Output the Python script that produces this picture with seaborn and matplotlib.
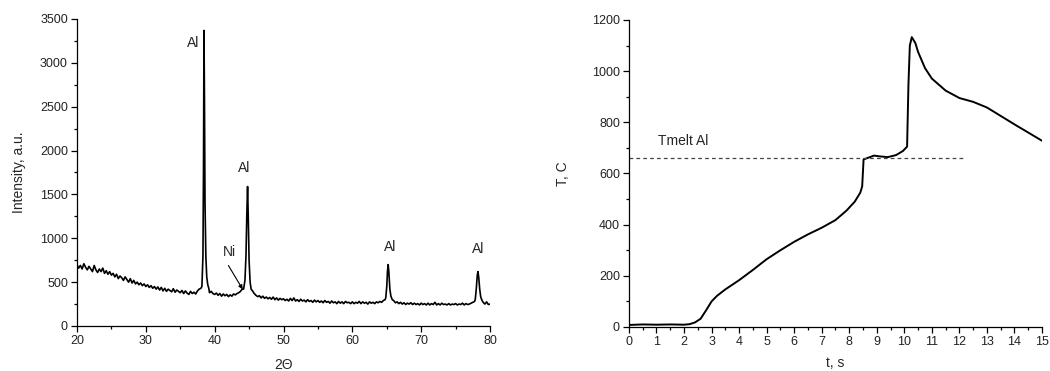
import numpy as np
import pandas as pd
import matplotlib
matplotlib.use("Agg")
import matplotlib.pyplot as plt
import seaborn as sns
from matplotlib.ticker import MultipleLocator

# XRD background, every 0.25 deg from 20 to 80 (a.u.)
bg_start, bg_step = 20.0, 0.25
bg_intensity = [
    700, 660, 690, 650, 710, 670, 640, 680, 650, 620, 690, 640, 610, 650, 620, 660, 600, 630, 590, 620,
    580, 600, 560, 590, 540, 570, 550, 520, 560, 530, 500, 540, 490, 520, 480, 500, 470, 490, 460, 480,
    450, 470, 440, 460, 430, 450, 420, 445, 410, 440, 400, 430, 395, 420, 405, 390, 425, 385, 410, 395,
    380, 405, 370, 400, 375, 360, 395, 370, 385, 365, 400, 420, 430, 450, 470, 440, 400, 380, 395, 370,
    360, 375, 350, 370, 340, 365, 345, 360, 335, 355, 340, 365, 355, 370, 380, 395, 420, 440, 460, 420,
    500, 450, 400, 370, 350, 335, 345, 320, 340, 315, 330, 310, 325, 305, 330, 300, 320, 295, 315, 300,
    310, 290, 305, 285, 315, 290, 320, 285, 300, 280, 305, 285, 295, 275, 300, 280, 290, 270, 295, 275,
    290, 270, 285, 265, 290, 270, 280, 260, 285, 265, 275, 255, 280, 260, 275, 255, 280, 265, 270, 255,
    275, 255, 270, 260, 280, 255, 275, 260, 270, 250, 275, 260, 270, 255, 275, 265, 280, 270, 290, 300,
    300, 300, 300, 300, 290, 265, 275, 255, 270, 250, 265, 245, 260, 250, 265, 245, 260, 245, 255, 240,
    260, 245, 255, 240, 260, 240, 255, 245, 270, 240, 255, 240, 260, 245, 250, 240, 255, 240, 250, 245,
    255, 240, 250, 245, 260, 240, 255, 245, 250, 260, 270, 280, 290, 290, 290, 290, 270, 250, 275, 245,
    250,
]

# diffraction peaks (2-theta, intensity)
peak_al_111_x = [38.15, 38.3, 38.38, 38.45, 38.52, 38.6, 38.72, 38.85, 39.0, 39.15]
peak_al_111_y = [450, 800, 1800, 3370, 2600, 1400, 800, 560, 470, 430]
peak_al_200_x = [44.2, 44.4, 44.55, 44.68, 44.78, 44.88, 45.0, 45.15, 45.3]
peak_al_200_y = [420, 520, 800, 1300, 1590, 1250, 750, 500, 420]
peak_al_220_x = [64.85, 65.0, 65.1, 65.2, 65.3, 65.45, 65.6, 65.8]
peak_al_220_y = [320, 450, 620, 700, 620, 420, 340, 300]
peak_al_311_x = [77.85, 78.0, 78.15, 78.25, 78.35, 78.5, 78.65, 78.85]
peak_al_311_y = [300, 420, 580, 620, 560, 420, 330, 290]

# peak labels
peak_labels = ["Al", "Al", "Al", "Al"]
peak_label_x = [36.9, 44.3, 65.5, 78.3]
peak_label_y = [3230, 1800, 900, 875]
ni_label_xy = (42.2, 845)
ni_arrow_from = (42.0, 690)
ni_arrow_to = (44.07, 418)

# temperature history
time_s = [
    0, 0.5, 1, 1.5, 2, 2.2, 2.4, 2.6, 2.8, 3.0, 3.2, 3.5, 4.0, 4.5, 5.0,
    5.5, 6.0, 6.5, 7.0, 7.5, 7.9, 8.2, 8.4, 8.47, 8.52, 8.7, 8.9, 9.1,
    9.4, 9.7, 9.95, 10.1, 10.15, 10.2, 10.27, 10.4, 10.5, 10.75, 11.0,
    11.5, 12.0, 12.5, 13.0, 13.5, 14.0, 14.5, 15.0,
]
temp_c = [
    8, 10, 9, 10, 9, 11, 18, 32, 65, 100, 122, 147, 183, 223, 265,
    300, 333, 362, 388, 418, 455, 490, 525, 550, 655, 662, 670, 667,
    664, 672, 688, 705, 950, 1100, 1133, 1110, 1075, 1012, 971,
    924, 895, 880, 858, 825, 792, 760, 728,
]
t_melt_al = 660
melt_line_t = [0, 12.2]

# merge background and peaks into one pattern
bg_x = bg_start + bg_step * np.arange(len(bg_intensity))
bg_y = np.array(bg_intensity, dtype=float)
peaks = [(peak_al_111_x, peak_al_111_y), (peak_al_200_x, peak_al_200_y),
         (peak_al_220_x, peak_al_220_y), (peak_al_311_x, peak_al_311_y)]
keep = np.ones(len(bg_x), dtype=bool)
for px, _ in peaks:
    keep &= ~((bg_x >= px[0]) & (bg_x <= px[-1]))
xs = list(bg_x[keep])
ys = list(bg_y[keep])
for px, py in peaks:
    xs += px
    ys += py
xrd = pd.DataFrame({"two_theta": xs, "intensity": ys}).sort_values("two_theta")

sns.set_theme(style="ticks")
plt.rcParams['font.family'] = ['Liberation Sans', 'DejaVu Sans']
plt.rcParams['axes.linewidth'] = 0.9

fig = plt.figure(figsize=(10.5, 3.71), dpi=100)
ax1 = fig.add_axes([0.0733, 0.1213, 0.3934, 0.8275])
ax2 = fig.add_axes([0.599, 0.1186, 0.3934, 0.8275])

sns.lineplot(data=xrd, x="two_theta", y="intensity", ax=ax1,
             color="black", lw=1.2)
ax1.set_xlim(20, 80)
ax1.set_ylim(0, 3500)
ax1.xaxis.set_major_locator(MultipleLocator(10))
ax1.xaxis.set_minor_locator(MultipleLocator(5))
ax1.yaxis.set_major_locator(MultipleLocator(500))
ax1.yaxis.set_minor_locator(MultipleLocator(250))
ax1.set_xlabel("2\u0398", fontsize=10, labelpad=8)
ax1.set_ylabel("Intensity, a.u.", fontsize=10, labelpad=10)
for lab, px, py in zip(peak_labels, peak_label_x, peak_label_y):
    ax1.text(px, py, lab, ha="center", va="center", fontsize=10)
ax1.text(*ni_label_xy, "Ni", ha="center", va="center", fontsize=10)
ax1.annotate("", xy=ni_arrow_to, xytext=ni_arrow_from,
             arrowprops=dict(arrowstyle="-|>", color="black", lw=0.8,
                             mutation_scale=6, shrinkA=0, shrinkB=0))

temp = pd.DataFrame({"t": time_s, "T": temp_c})
sns.lineplot(data=temp, x="t", y="T", ax=ax2, color="black", lw=1.4)
ax2.plot(melt_line_t, [t_melt_al, t_melt_al], color="#444444",
         lw=0.9, ls=(0, (3, 2.5)))
ax2.text(1.05, 727, "Tmelt Al", ha="left", va="center", fontsize=10)
ax2.set_xlim(0, 15)
ax2.set_ylim(0, 1200)
ax2.xaxis.set_major_locator(MultipleLocator(1))
ax2.xaxis.set_minor_locator(MultipleLocator(0.5))
ax2.yaxis.set_major_locator(MultipleLocator(200))
ax2.yaxis.set_minor_locator(MultipleLocator(100))
ax2.set_xlabel("t, s", fontsize=10, labelpad=6)
ax2.set_ylabel("T, C", fontsize=10, labelpad=16)

for ax in (ax1, ax2):
    sns.despine(ax=ax)
    ax.tick_params(which="major", direction="out", length=4.5, width=0.9,
                   labelsize=9, color="black", labelcolor="#222222", pad=2)
    ax.tick_params(which="minor", direction="out", length=2.5, width=0.9,
                   color="black")
    for s in ("left", "bottom"):
        ax.spines[s].set_color("black")

fig.savefig("out.png", dpi=100)
